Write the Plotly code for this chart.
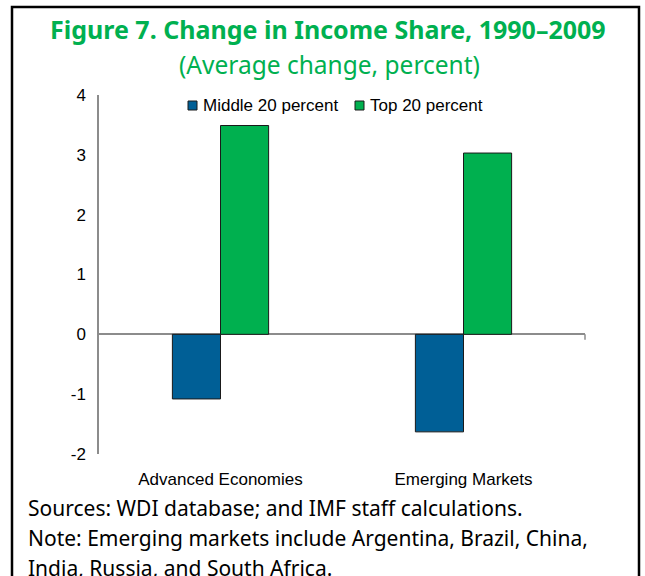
import plotly.graph_objects as go

categories = ["Advanced Economies", "Emerging Markets"]
middle_20 = [-1.08, -1.63]
top_20 = [3.49, 3.03]
series_names = ["Middle 20 percent", "Top 20 percent"]
y_ticks = [-2, -1, 0, 1, 2, 3, 4]
y_tick_text = ["-2", "-1", "0", "1", "2", "3", "4"]

W, H = 645, 576
L, T = 99, 95
PW, PH = 486, 359
R = W - L - PW
B = H - T - PH

def px(x):
    return (x - L) / PW

def py(y):
    return (T + PH - y) / PH

BLUE = "#005F96"
GREEN = "#00B04F"
TGREEN = "#00B050"
colors = [BLUE, GREEN]

fig = go.Figure()
fig.add_trace(go.Bar(x=categories, y=middle_20, name=series_names[0], showlegend=False,
                     marker=dict(color=BLUE, line=dict(color="#1a1a1a", width=1))))
fig.add_trace(go.Bar(x=categories, y=top_20, name=series_names[1], showlegend=False,
                     marker=dict(color=GREEN, line=dict(color="#1a1a1a", width=1))))

fig.update_layout(
    width=W, height=H,
    margin=dict(l=L, r=R, t=T, b=B),
    paper_bgcolor="white", plot_bgcolor="white",
    barmode="group", bargap=0.604, bargroupgap=0,
    font=dict(family="Liberation Sans, Arial, sans-serif", size=16, color="black"),
    showlegend=False,
    xaxis=dict(showline=False, showgrid=False, ticks="outside", ticklen=10,
               tickcolor="rgba(0,0,0,0)", tickfont=dict(size=17)),
    yaxis=dict(range=[-2, 4], tickvals=y_ticks, ticktext=y_tick_text, showgrid=False,
               showline=True, linecolor="#8c8c8c", linewidth=1.5,
               zeroline=True, zerolinecolor="#8c8c8c", zerolinewidth=2,
               ticks="outside", ticklen=8, tickcolor="rgba(0,0,0,0)",
               tickfont=dict(size=17)),
)

# end tick on the zero line (category boundary)
fig.add_shape(type="line", xref="paper", yref="y", x0=1, x1=1, y0=0, y1=-0.09,
              line=dict(color="#8c8c8c", width=1.5))

# legend (manual, Excel style)
leg_sq_x = [188, 355]
leg_tx_x = [201, 368]
for sx, tx, c, name in zip(leg_sq_x, leg_tx_x, colors, series_names):
    fig.add_shape(type="rect", xref="paper", yref="paper",
                  x0=px(sx), x1=px(sx + 9), y0=py(110), y1=py(101),
                  fillcolor=c, line=dict(color="#1a1a1a", width=1))
    fig.add_annotation(xref="paper", yref="paper", x=px(tx), y=py(105), showarrow=False,
                       text=name, font=dict(size=17, color="black"),
                       xanchor="left", yanchor="middle")

# outer frame
fig.add_shape(type="rect", xref="paper", yref="paper",
              x0=px(12), x1=px(639), y0=py(600), y1=py(7),
              line=dict(color="black", width=2.5), fillcolor="rgba(0,0,0,0)", layer="above")

title_font = "Noto Sans, Open Sans, sans-serif"
fig.add_annotation(xref="paper", yref="paper", x=px(328), y=py(29), showarrow=False,
                   text="<b>Figure 7. Change in Income Share, 1990–2009</b>",
                   font=dict(family=title_font, size=25, color=TGREEN),
                   xanchor="center", yanchor="middle")
fig.add_annotation(xref="paper", yref="paper", x=px(329), y=py(65), showarrow=False,
                   text="(Average change, percent)",
                   font=dict(family=title_font, size=24.5, color=TGREEN),
                   xanchor="center", yanchor="middle")

notes = ["Sources: WDI database; and IMF staff calculations.",
         "Note: Emerging markets include Argentina, Brazil, China,",
         "India, Russia, and South Africa."]
for i, line in enumerate(notes):
    fig.add_annotation(xref="paper", yref="paper", x=px(26), y=py(508 + 30 * i), showarrow=False,
                       text=line, font=dict(family=title_font, size=21, color="black"),
                       xanchor="left", yanchor="middle")

fig.write_html("out.html",
               config={"displayModeBar": False},
               post_script="document.body.style.margin='0';document.body.style.overflow='hidden';")
